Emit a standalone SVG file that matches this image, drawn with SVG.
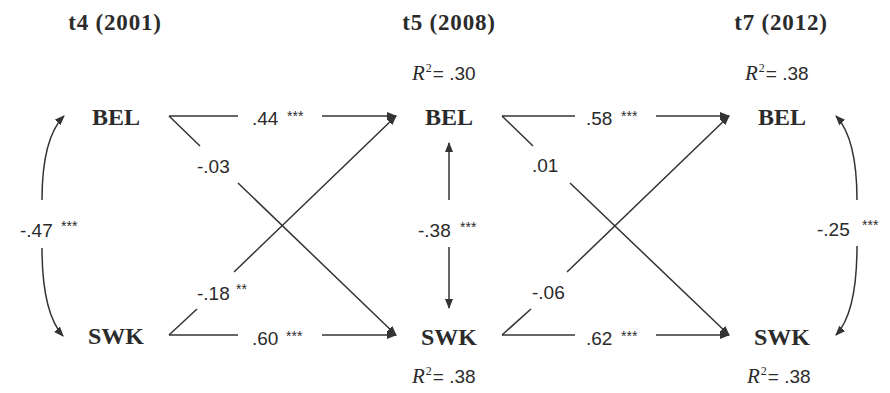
<svg xmlns="http://www.w3.org/2000/svg" width="890" height="393" viewBox="0 0 890 393">
<style>
.title{font-family:"Liberation Serif",serif;font-weight:bold;font-size:23px;letter-spacing:0.8px;fill:#2b2b2b;text-anchor:middle}
.node{font-family:"Liberation Serif",serif;font-weight:bold;font-size:24px;fill:#2b2b2b;text-anchor:middle}
.lbl{font-family:"Liberation Sans",sans-serif;font-size:19px;fill:#2b2b2b}
.st{font-family:"Liberation Sans",sans-serif;font-size:14px;fill:#2b2b2b}
.r2{font-family:"Liberation Sans",sans-serif;font-size:19px;fill:#2b2b2b}
.ri{font-family:"Liberation Serif",serif;font-style:italic;font-size:21px}
.sup{font-family:"Liberation Serif",serif;font-size:12px}
.ln{stroke:#333;stroke-width:1.5;fill:none}
.ar{marker-end:url(#ah)}
</style>
<defs>
<marker id="ah" viewBox="0 0 10 8" refX="9" refY="4" markerWidth="10" markerHeight="8" markerUnits="userSpaceOnUse" orient="auto">
<path d="M0,0 L10,4 L0,8 z" fill="#333"/>
</marker>
</defs>
<rect width="890" height="393" fill="#fff"/>
<g id="titles">
<text class="title" x="115" y="30">t4 (2001)</text>
<text class="title" x="449" y="30">t5 (2008)</text>
<text class="title" x="781" y="30">t7 (2012)</text>
</g>
<g id="r2labels">
<text class="r2" x="412" y="80"><tspan class="ri">R</tspan><tspan class="sup" dx="1" dy="-8">2</tspan><tspan dx="1" dy="8">= .30</tspan></text>
<text class="r2" x="412" y="383"><tspan class="ri">R</tspan><tspan class="sup" dx="1" dy="-8">2</tspan><tspan dx="1" dy="8">= .38</tspan></text>
<text class="r2" x="745" y="80"><tspan class="ri">R</tspan><tspan class="sup" dx="1" dy="-8">2</tspan><tspan dx="1" dy="8">= .38</tspan></text>
<text class="r2" x="747" y="383"><tspan class="ri">R</tspan><tspan class="sup" dx="1" dy="-8">2</tspan><tspan dx="1" dy="8">= .38</tspan></text>
</g>
<g id="BEL_t4"><text class="node" x="116" y="125">BEL</text></g>
<g id="SWK_t4"><text class="node" x="116" y="344">SWK</text></g>
<g id="BEL_t5"><text class="node" x="449" y="125">BEL</text></g>
<g id="SWK_t5"><text class="node" x="449" y="345">SWK</text></g>
<g id="BEL_t7"><text class="node" x="782" y="125">BEL</text></g>
<g id="SWK_t7"><text class="node" x="782" y="345">SWK</text></g>
<g id="connectors">
<g id="e_bel4_bel5">
<line class="ln" x1="169" y1="116" x2="238" y2="116"/>
<line class="ln ar" x1="322" y1="116" x2="396" y2="116"/>
<text class="lbl" x="252" y="125">.44</text><text class="st" x="287" y="121">***</text>
</g>
<g id="e_swk4_swk5">
<line class="ln" x1="169" y1="335" x2="238" y2="335"/>
<line class="ln ar" x1="322" y1="335" x2="396" y2="335"/>
<text class="lbl" x="252" y="345">.60</text><text class="st" x="286" y="341">***</text>
</g>
<g id="e_bel4_swk5">
<line class="ln" x1="169" y1="116" x2="200" y2="146"/>
<line class="ln ar" x1="238" y1="183" x2="396" y2="335"/>
<text class="lbl" x="197" y="173">-.03</text>
</g>
<g id="e_swk4_bel5">
<line class="ln" x1="169" y1="335" x2="197" y2="309"/>
<line class="ln ar" x1="234" y1="272" x2="396" y2="116"/>
<text class="lbl" x="197" y="300">-.18</text><text class="st" x="236" y="294">**</text>
</g>
<g id="e_bel5_bel7">
<line class="ln" x1="502" y1="116" x2="575" y2="116"/>
<line class="ln ar" x1="656" y1="116" x2="729" y2="116"/>
<text class="lbl" x="586" y="125">.58</text><text class="st" x="621" y="121">***</text>
</g>
<g id="e_swk5_swk7">
<line class="ln" x1="502" y1="335" x2="575" y2="335"/>
<line class="ln ar" x1="656" y1="335" x2="729" y2="335"/>
<text class="lbl" x="586" y="345">.62</text><text class="st" x="621" y="341">***</text>
</g>
<g id="e_bel5_swk7">
<line class="ln" x1="502" y1="116" x2="533" y2="146"/>
<line class="ln ar" x1="570" y1="183" x2="729" y2="335"/>
<text class="lbl" x="532" y="172">.01</text>
</g>
<g id="e_swk5_bel7">
<line class="ln" x1="502" y1="335" x2="531" y2="309"/>
<line class="ln ar" x1="567" y1="272" x2="729" y2="116"/>
<text class="lbl" x="532" y="299">-.06</text>
</g>
<g id="c_t5">
<line class="ln ar" x1="449" y1="200" x2="449" y2="143"/>
<line class="ln ar" x1="449" y1="247" x2="449" y2="308"/>
<text class="lbl" x="418" y="237">-.38</text><text class="st" x="460" y="232">***</text>
</g>
<g id="c_t4">
<path class="ln ar" d="M42,200 C42,165 47,133 64,116"/>
<path class="ln ar" d="M42,248 C42,285 47,318 63,336"/>
<text class="lbl" x="20" y="237">-.47</text><text class="st" x="61" y="231">***</text>
</g>
<g id="c_t7">
<path class="ln ar" d="M857,200 C857,165 852,133 836,116"/>
<path class="ln ar" d="M857,246 C857,285 852,318 836,335"/>
<text class="lbl" x="817" y="236">-.25</text><text class="st" x="862" y="230">***</text>
</g>
</g>
</svg>
